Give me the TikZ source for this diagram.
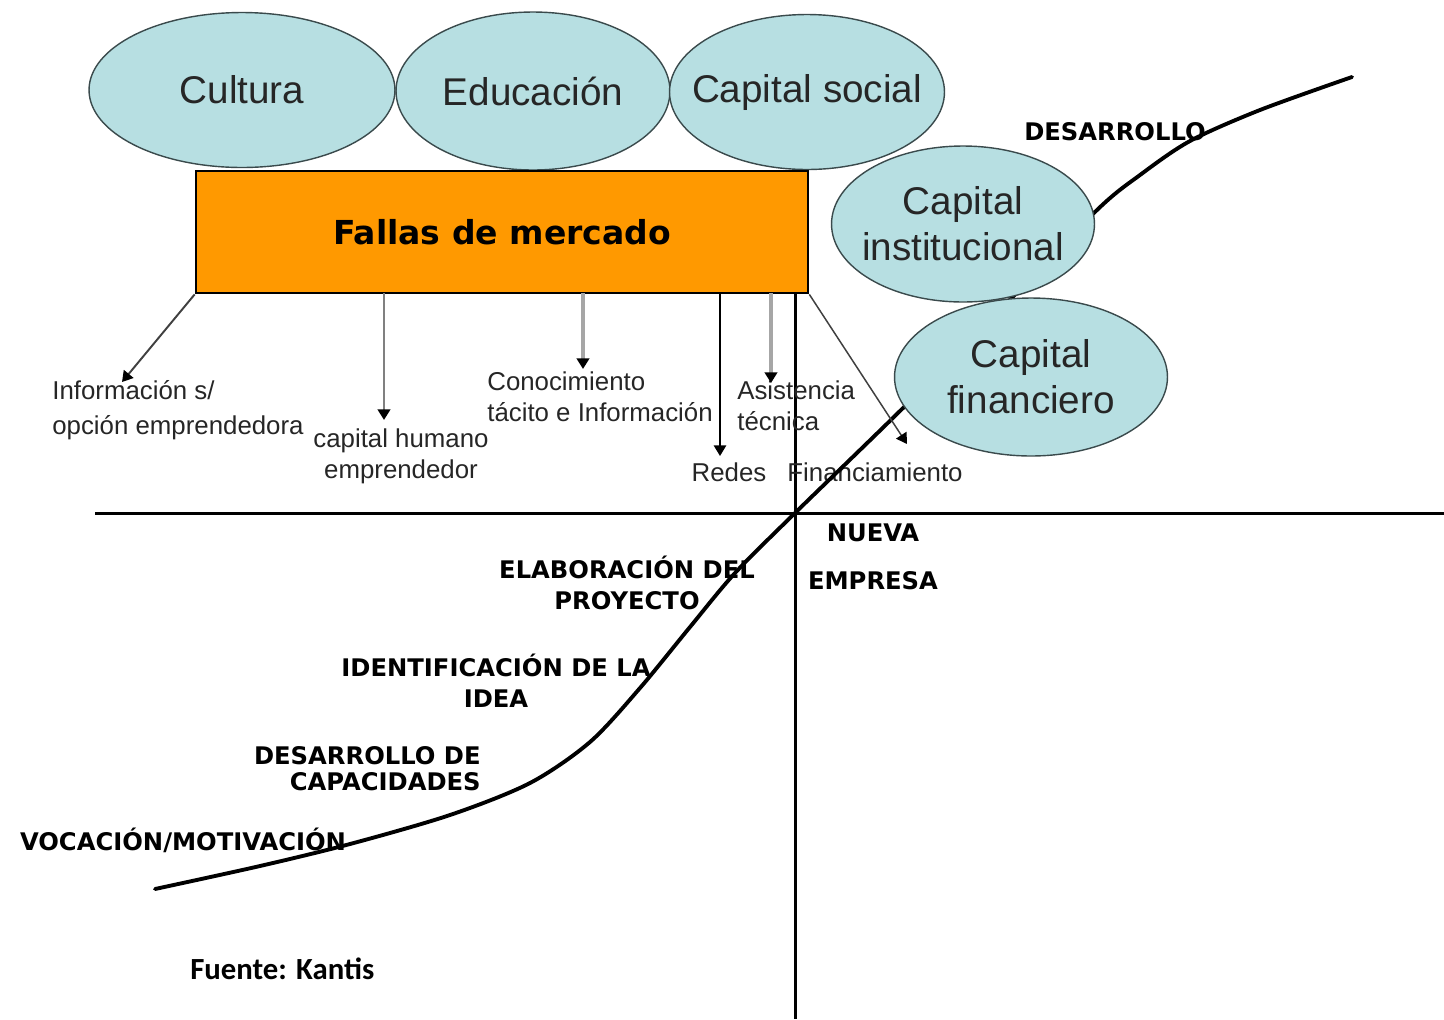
\documentclass[tikz,border=0pt]{standalone}
\usepackage{fontspec}
\setmainfont{Liberation Sans}
\newfontfamily\headfont{DejaVu Sans}
\newfontfamily\notefont{Carlito}
\usetikzlibrary{shapes.geometric,arrows.meta}
\definecolor{ellfill}{HTML}{B7DFE2}
\definecolor{ellline}{HTML}{3A4A4C}
\definecolor{fallasfill}{HTML}{FF9900}
\tikzset{
	lbl/.style={inner sep=0pt,font=\fontsize{14.7}{17.6}\selectfont,text=black!85},
	stage/.style={inner sep=0pt,font=\headfont\bfseries\fontsize{13.8}{17.6}\selectfont},
	arr/.style={-{Triangle[length=6pt,width=7pt,color=black]},line width=0.85pt},
}
\newcommand{\capital}[4][]{\node[ellipse,draw=ellline,line width=0.8pt,fill=ellfill,inner xsep=-0.6cm,inner ysep=0pt,align=center,text=black!85,font=\fontsize{22}{26}\selectfont,#1] at (#2) (#3) {#4}}

\begin{document}
\begin{tikzpicture}[x=0.02cm,y=-0.02cm]
			\useasboundingbox (0,0) rectangle (1444,1019);
			
			\draw[line width=1.7pt] (95,513) -- (1444,513);
			\draw[line width=1.7pt] (795,293) -- (795,1019);
			
			\node[lbl,anchor=west,align=left,font=\fontsize{14.7}{19.8}\selectfont] at (52,410) (info) {Información s/\\opción emprendedora};
			\node[lbl,align=center] at (401,456) (humano) {capital humano\\emprendedor};
			\node[lbl,anchor=west,align=left] at (487,397) (tacito) {Conocimiento\\tácito e Información};
			\node[lbl,anchor=west,align=left] at (737,406) (asist) {Asistencia\\técnica};
			\node[lbl] at (729,472) (redes) {Redes};
			\node[lbl] at (875,472) (finan) {Financiamiento};
			
			\node[stage] at (1115,132) (desarrollo) {DESARROLLO};
			\node[stage,align=center,font=\headfont\bfseries\fontsize{13.8}{27.2}\selectfont] at (873,557) (nueva) {NUEVA\\EMPRESA};
			\node[stage,align=center] at (627,583) (proyecto) {ELABORACIÓN DEL\\PROYECTO};
			\node[stage,align=center] at (496,681) (idea) {IDENTIFICACIÓN DE LA\\IDEA};
			\node[stage,anchor=east,align=right,font=\headfont\bfseries\fontsize{13.8}{14.7}\selectfont] at (481,769) (capac) {DESARROLLO DE\\CAPACIDADES};
			\node[stage] at (183,840) (vocacion) {VOCACIÓN/MOTIVACIÓN};
			\node[inner sep=0pt,anchor=west,font=\notefont\bfseries\fontsize{17.5}{21}\selectfont] at (190,969) (fuente) {Fuente: Kantis};
			
			\draw[line width=2.2pt,line cap=round] plot[smooth] coordinates {(155,889) (260,866) (350,844) (450,815) (530,783) (590,742) (640,688) (690,627) (735,573) (795,513) (903,408) (1000,310) (1097,210) (1140,175) (1190,141) (1260,110) (1352,77)};
			
			\capital[minimum width=6.12cm,minimum height=3.1cm]{242,90}{cultura}{Cultura};
			\capital[minimum width=5.48cm,minimum height=3.16cm]{533,91}{educacion}{Educación};
			\capital[minimum width=5.5cm,minimum height=3.1cm]{807,92}{social}{Capital social};
			\capital[minimum width=5.26cm,minimum height=3.12cm]{963,224}{institucional}{Capital\\institucional};
			\capital[minimum width=5.46cm,minimum height=3.16cm]{1031,377}{financiero}{Capital\\financiero};
			
			\node[draw,line width=1.6pt,fill=fallasfill,minimum width=12.24cm,minimum height=2.44cm,inner sep=0pt,font=\headfont\bfseries\fontsize{18.8}{22}\selectfont] at (502,232) (fallas) {Fallas de mercado};
			
			\coordinate (s2) at (384,293);
			\coordinate (s3) at (583,293);
			\coordinate (s4) at (720,293);
			\coordinate (s5) at (771,293);
			\coordinate (e1) at (122,382);
			\coordinate (e2) at (384,420);
			\coordinate (e3) at (583,369);
			\coordinate (e4) at (720,456);
			\coordinate (e5) at (771,383);
			\coordinate (e6) at (907,444);
			\draw[arr,draw=black!75,line width=1.1pt] (fallas.south west) -- (e1);
			\draw[arr,draw=black!50,line width=1.7pt] (s2) -- (e2);
			\draw[arr,draw=black!35,line width=2.3pt] (s3) -- (e3);
			\draw[arr] (s4) -- (e4);
			\draw[arr,draw=black!35,line width=2.8pt] (s5) -- (e5);
			\draw[arr,draw=black!75] (fallas.south east) -- (e6);
			
\end{tikzpicture}
\end{document}
